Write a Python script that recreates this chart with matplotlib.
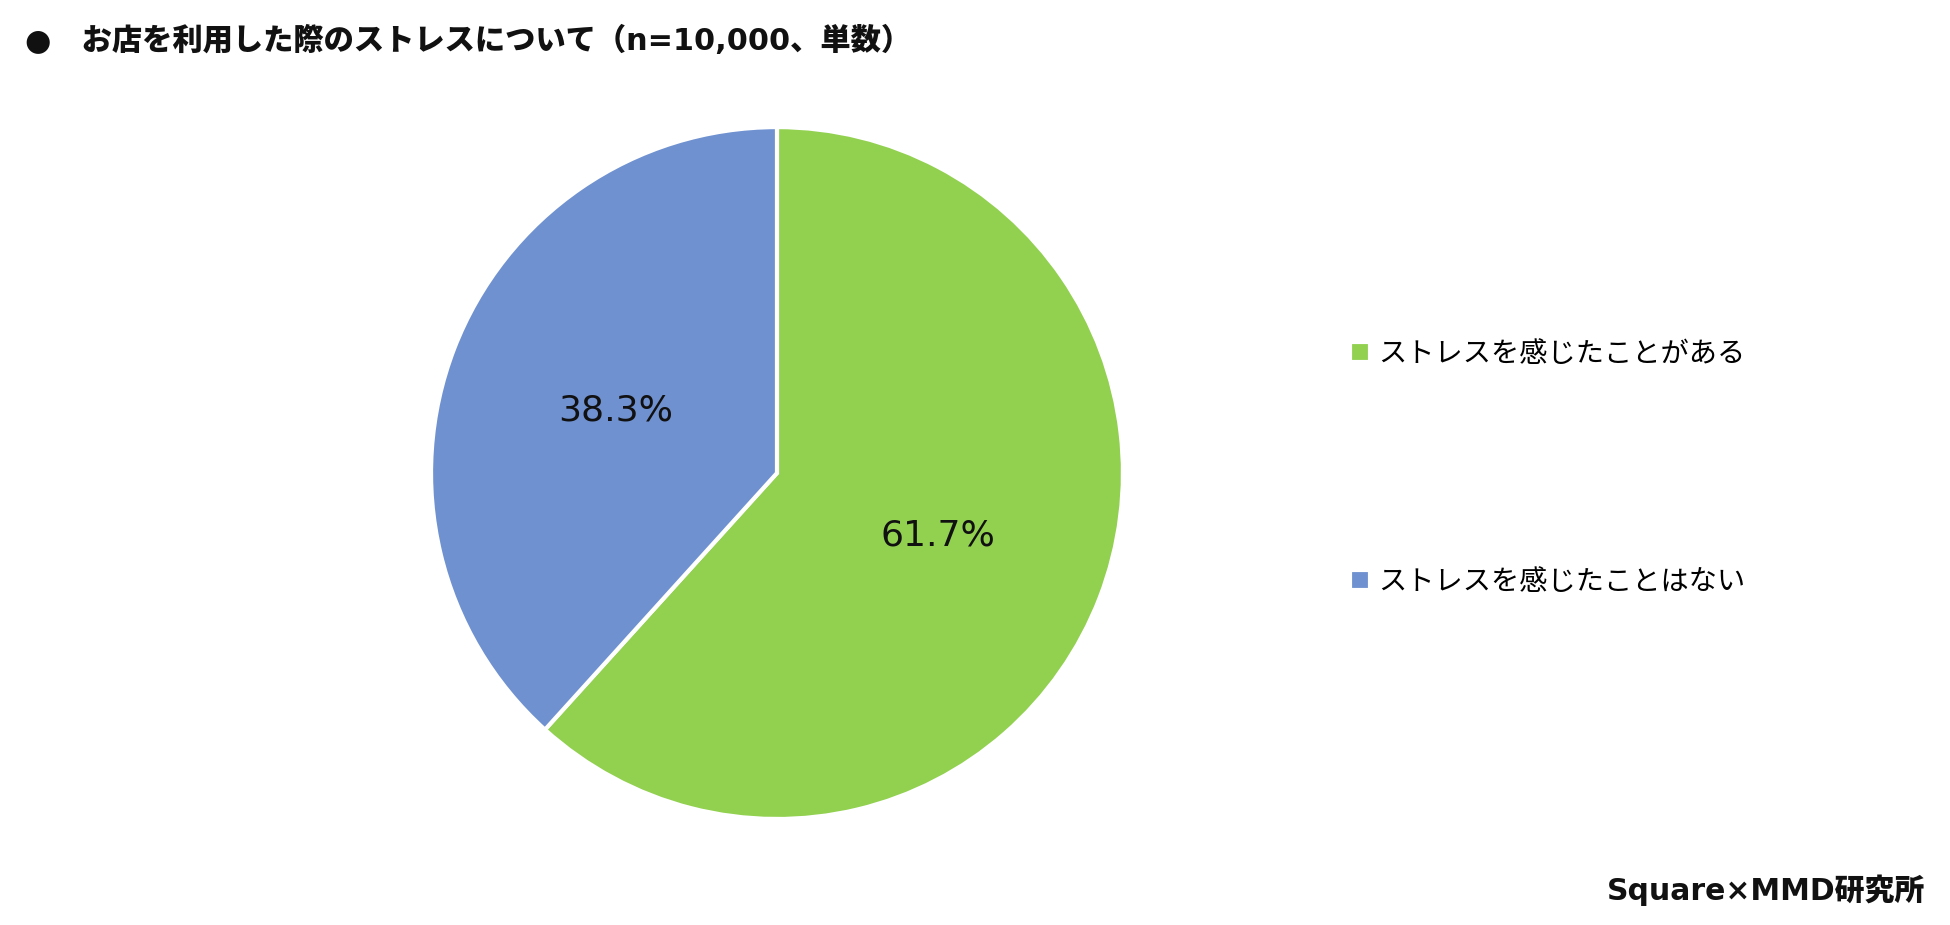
import matplotlib
matplotlib.use("Agg")
import matplotlib.pyplot as plt

plt.rcParams['font.family'] = ['DejaVu Sans', 'Noto Sans CJK JP']

labels = ["ストレスを感じたことがある", "ストレスを感じたことはない"]
values = [61.7, 38.3]
colors = ["#92D050", "#6F91D0"]
title = "●　お店を利用した際のストレスについて（n=10,000、単数）"
source = "Square×MMD研究所"

fig = plt.figure(figsize=(19.5, 9.25), dpi=100)
ax = fig.add_axes([0.2210, 0.1146, 0.3549, 0.748])
wedges, texts, autotexts = ax.pie(
    values, colors=colors, startangle=90, counterclock=False,
    autopct=lambda p: f"{p:.1f}%", pctdistance=0.5,
    wedgeprops=dict(edgecolor="white", linewidth=3),
    textprops=dict(fontsize=26, color="#111111"),
)
ax.set_xlim(-1.0, 1.0)
ax.set_ylim(-1.0, 1.0)
ax.set_aspect("equal")

ax.legend(wedges, labels, loc="center left",
          bbox_to_anchor=(1350 / 1950, 1 - 468 / 925),
          bbox_transform=fig.transFigure, frameon=False,
          fontsize=20.3, handlelength=0.7, handleheight=0.7,
          handletextpad=0.3, labelspacing=7.1, borderpad=0, borderaxespad=0)

fig.text(25 / 1950, 1 - 41 / 925, title, fontsize=21.8, fontweight="heavy",
         ha="left", va="center", color="#111111")
fig.text(1925 / 1950, 1 - 890 / 925, source, fontsize=21.5, fontweight="heavy",
         ha="right", va="center", color="#111111")

fig.savefig("out.png", dpi=100, facecolor="white")
